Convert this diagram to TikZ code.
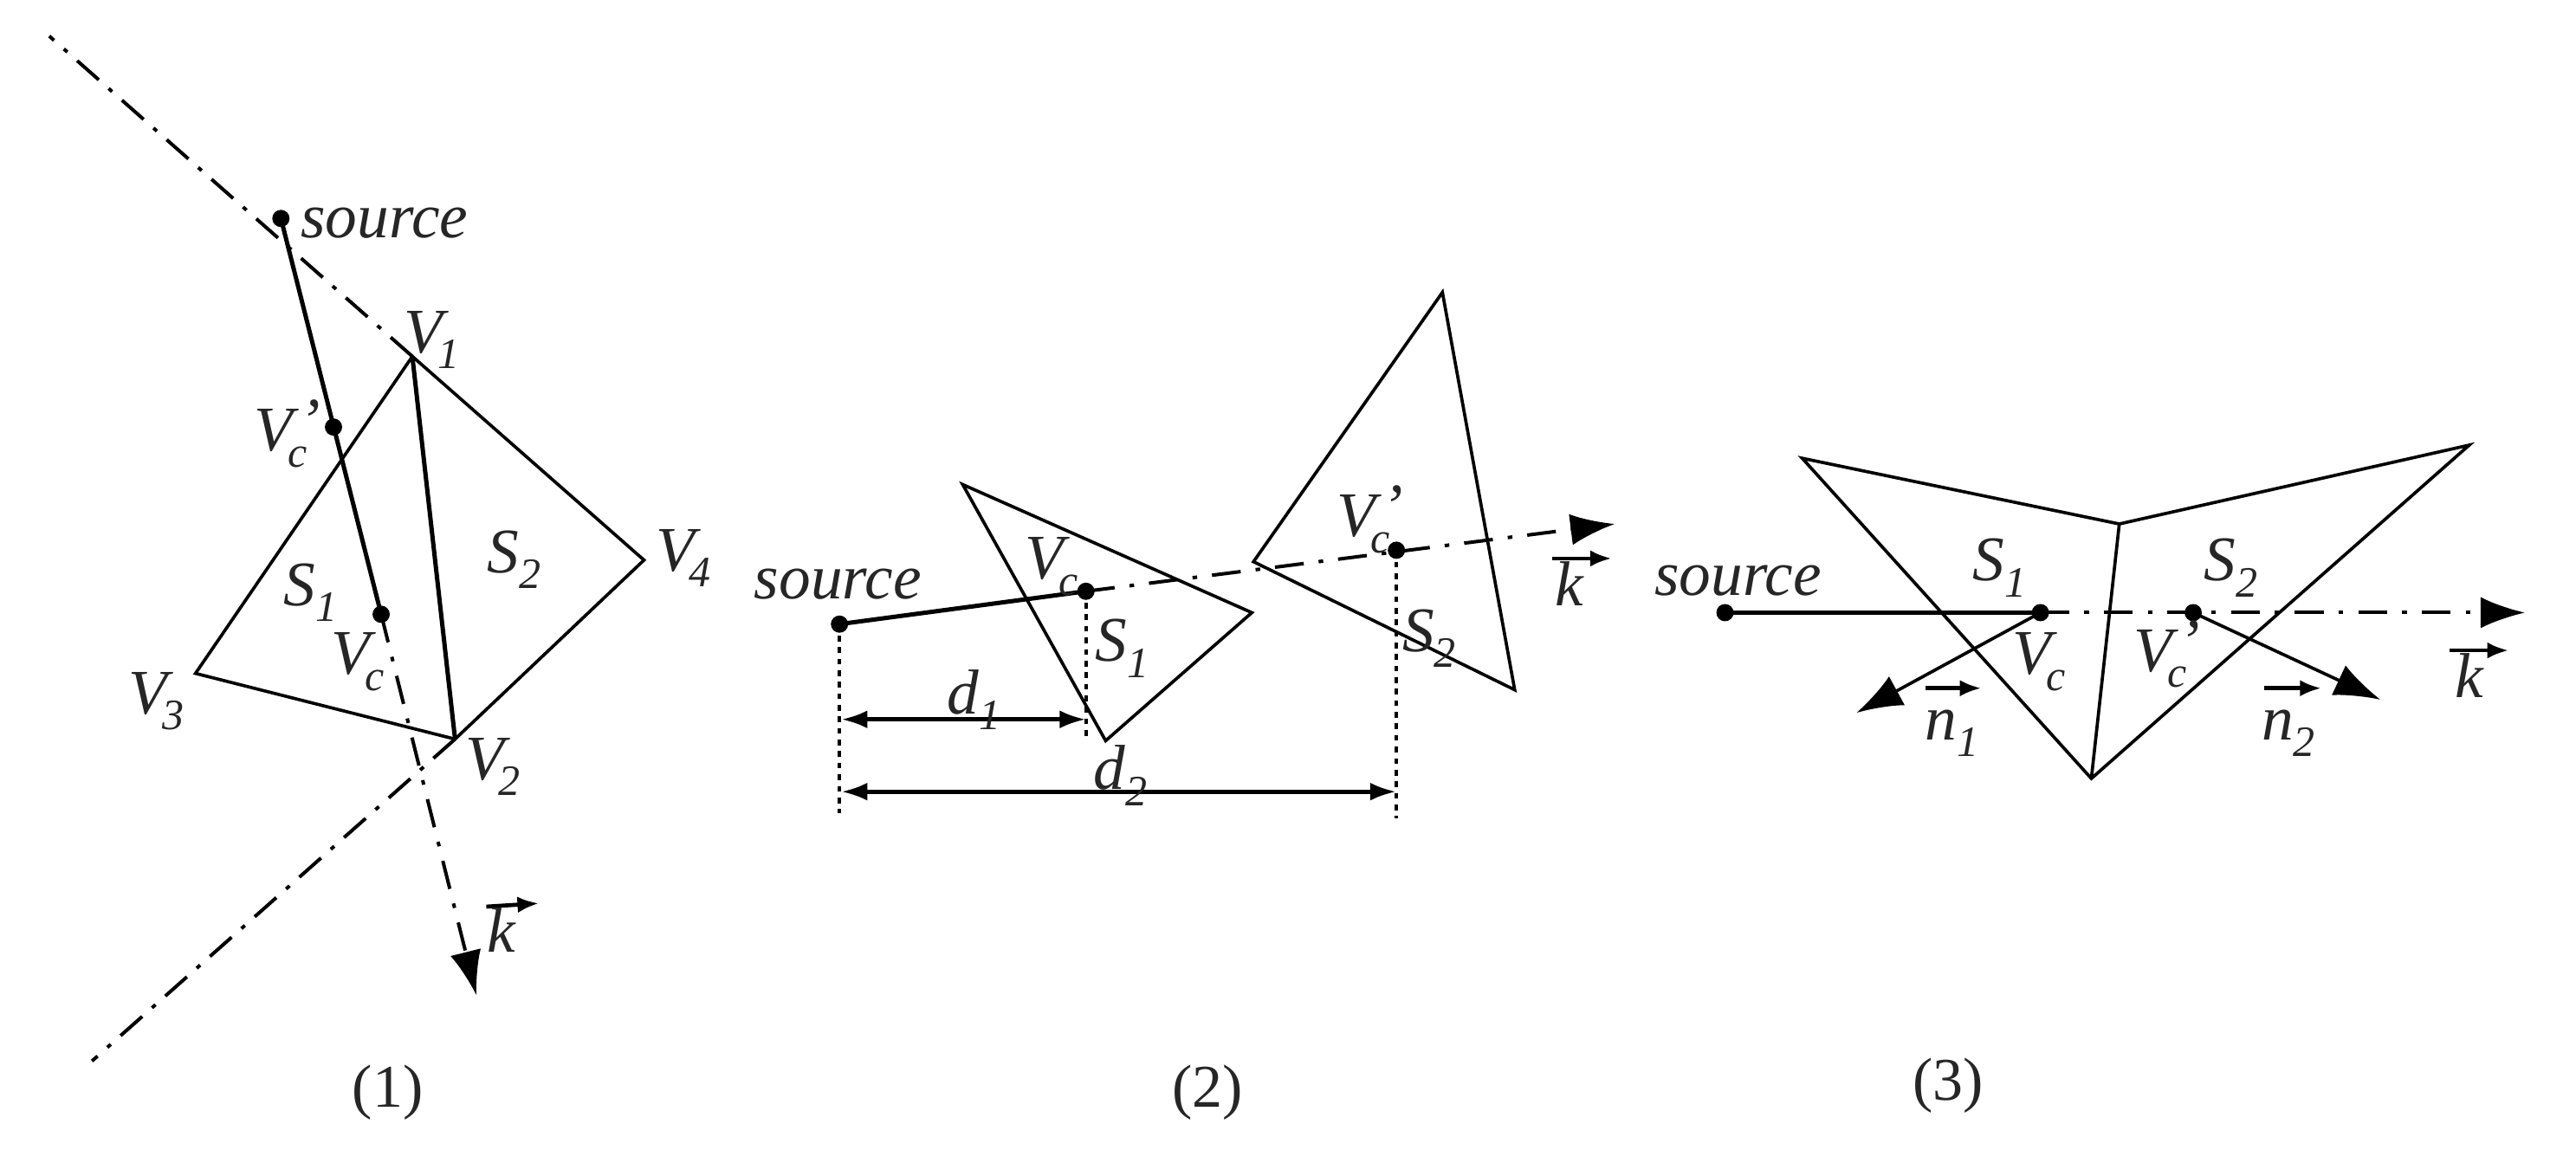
\documentclass[tikz,border=0pt]{standalone}
\usepackage{fontspec}
\setmainfont{Liberation Serif}
\usetikzlibrary{arrows.meta}
\newcommand{\lowsub}[1]{\raisebox{-0.55ex}{\fontsize{7.5}{8}\selectfont\itshape #1}}
\newcommand{\Vsub}[1]{V\hspace{-0.08em}\lowsub{#1}}
\newcommand{\Vprime}{\Vsub{c}\rlap{\hspace{-1.4pt}\smash{\raisebox{1.5pt}{'}}}}
\tikzset{
  x=0.01cm,y=-0.01cm,
  thin line/.style={line width=0.55pt,line join=miter},
  ray/.style={line width=0.75pt},
  axis/.style={line width=0.6pt,dash pattern=on 5pt off 2.6pt on 0.8pt off 2.6pt},
  long axis/.style={line width=0.6pt,dash pattern=on 5pt off 2.27pt on 0.8pt off 2.27pt},
  drop/.style={line width=0.6pt,dash pattern=on 1pt off 1pt},
  big tip/.style={-{Latex[length=0.27cm,width=0.19cm]}},
  normal tip/.style={-{Latex[length=0.28cm,width=0.2cm]}},
  span tip/.style={{Latex[length=0.16cm,width=0.11cm]}-{Latex[length=0.16cm,width=0.11cm]}},
  vec tip/.style={line width=0.7pt,-{Latex[length=0.13cm,width=0.1cm]}},
  ptn/.style={circle,fill=black,inner sep=0pt,minimum size=0.105cm},
  lab/.style={inner sep=0pt,text height=7.7pt,text depth=2.2pt,font=\fontsize{11}{12}\selectfont\itshape,text=black!85},
  captionlab/.style={inner sep=0pt,font=\fontsize{10.5}{12}\selectfont,text=black!85}
}
\begin{document}
\begin{tikzpicture}
\useasboundingbox (0,0) rectangle (1568,700);
% ---------- panel 1
\coordinate (av1) at (251,217);
\coordinate (av2) at (277,450);
\coordinate (av3) at (119,410);
\coordinate (av4) at (392,341);
\coordinate (atop) at (30,22);
\coordinate (abot) at (56,646);
\coordinate (atip) at (290,606);
\coordinate (ak1) at (296,552);
\coordinate (ak2) at (328,550);
\node[ptn] (as) at (171,133) {};
\node[ptn] (avcp) at (203,260) {};
\node[ptn] (avc) at (232,374) {};
\draw[long axis] (av1) -- (atop);
\draw[long axis] (av2) -- (abot);
\draw[thin line] (av1) -- (av4) -- (av2) -- (av3) -- cycle;
\draw[ray] (av1) -- (av2);
\draw[ray] (as.center) -- (avc.center);
\draw[axis,big tip] (avc.center) -- (atip);
\draw[vec tip] (ak1) -- (ak2);
\node[lab] (l1) at (234,135) {source};
\node[lab] (l2) at (263,205) {\Vsub{1}};
\node[lab] (l3) at (171,265) {\Vprime};
\node[lab] (l4) at (189,359) {S\lowsub{1}};
\node[lab] (l5) at (313,339) {S\lowsub{2}};
\node[lab] (l6) at (416,338) {\Vsub{4}};
\node[lab] (l7) at (218,401) {\Vsub{c}};
\node[lab] (l8) at (95,425) {\Vsub{3}};
\node[lab] (l9) at (300,465) {\Vsub{2}};
\node[lab] (l10) at (305,570) {k};
\node[captionlab] (c1) at (236,665) {(1)};
% ---------- panel 2
\coordinate (b1) at (586,295);
\coordinate (b2) at (762,373);
\coordinate (b3) at (673,451);
\coordinate (b4) at (878,178);
\coordinate (b5) at (922,420);
\coordinate (b6) at (763,342);
\coordinate (btip) at (983,319);
\coordinate (bd0) at (511,495);
\coordinate (bd1) at (661,450);
\coordinate (bd2) at (850,498);
\coordinate (ba1) at (512,438);
\coordinate (ba2) at (661,438);
\coordinate (bb1) at (512,482);
\coordinate (bb2) at (850,482);
\coordinate (bk1) at (945,340);
\coordinate (bk2) at (981,340);
\node[ptn] (bs) at (511,380) {};
\node[ptn] (bvc) at (661,360) {};
\node[ptn] (bvcp) at (850,335) {};
\draw[thin line] (b1) -- (b2) -- (b3) -- cycle;
\draw[thin line] (b4) -- (b5) -- (b6) -- cycle;
\draw[ray] (bs.center) -- (bvc.center);
\draw[axis,big tip] (bvc.center) -- (btip);
\draw[drop] (bs.center) -- (bd0);
\draw[drop] (bvc.center) -- (bd1);
\draw[drop] (bvcp.center) -- (bd2);
\draw[ray,span tip] (ba1) -- (ba2);
\draw[ray,span tip] (bb1) -- (bb2);
\draw[vec tip] (bk1) -- (bk2);
\node[lab] (m1) at (510,355) {source};
\node[lab] (m2) at (640,343) {\Vsub{c}};
\node[lab] (m3) at (683,393) {S\lowsub{1}};
\node[lab] (m4) at (830,317) {\Vprime};
\node[lab] (m5) at (870,387) {S\lowsub{2}};
\node[lab] (m6) at (593,425) {d\lowsub{1}};
\node[lab] (m7) at (682,471) {d\lowsub{2}};
\node[lab] (m8) at (955,359) {k};
\node[captionlab] (c2) at (735,665) {(2)};
% ---------- panel 3
\coordinate (c1a) at (1097,279);
\coordinate (c2a) at (1290,319);
\coordinate (c3a) at (1503,271);
\coordinate (c4a) at (1273,474);
\coordinate (ctip) at (1537,373);
\coordinate (cn1) at (1130,434);
\coordinate (cn2) at (1449,426);
\coordinate (cv1a) at (1172,419);
\coordinate (cv1b) at (1206,419);
\coordinate (cv2a) at (1378,419);
\coordinate (cv2b) at (1413,419);
\coordinate (cv3a) at (1491,396);
\coordinate (cv3b) at (1527,396);
\node[ptn] (cs) at (1050,373) {};
\node[ptn] (cvc) at (1242,373) {};
\node[ptn] (cvcp) at (1335,373) {};
\draw[thin line] (c1a) -- (c2a) -- (c3a) -- (c4a) -- cycle;
\draw[thin line] (c2a) -- (c4a);
\draw[ray] (cs.center) -- (cvc.center);
\draw[axis,big tip] (cvc.center) -- (ctip);
\draw[thin line,normal tip] (cvc.center) -- (cn1);
\draw[thin line,normal tip] (cvcp.center) -- (cn2);
\draw[vec tip] (cv1a) -- (cv1b);
\draw[vec tip] (cv2a) -- (cv2b);
\draw[vec tip] (cv3a) -- (cv3b);
\node[lab] (r1) at (1058,353) {source};
\node[lab] (r2) at (1217,344) {S\lowsub{1}};
\node[lab] (r3) at (1358,344) {S\lowsub{2}};
\node[lab] (r4) at (1241,401) {\Vsub{c}};
\node[lab] (r5) at (1315,399) {\Vprime};
\node[lab] (r6) at (1188,441) {n\lowsub{1}};
\node[lab] (r7) at (1393,441) {n\lowsub{2}};
\node[lab] (r8) at (1503,415) {k};
\node[captionlab] (c3) at (1186,661) {(3)};
\end{tikzpicture}
\end{document}
